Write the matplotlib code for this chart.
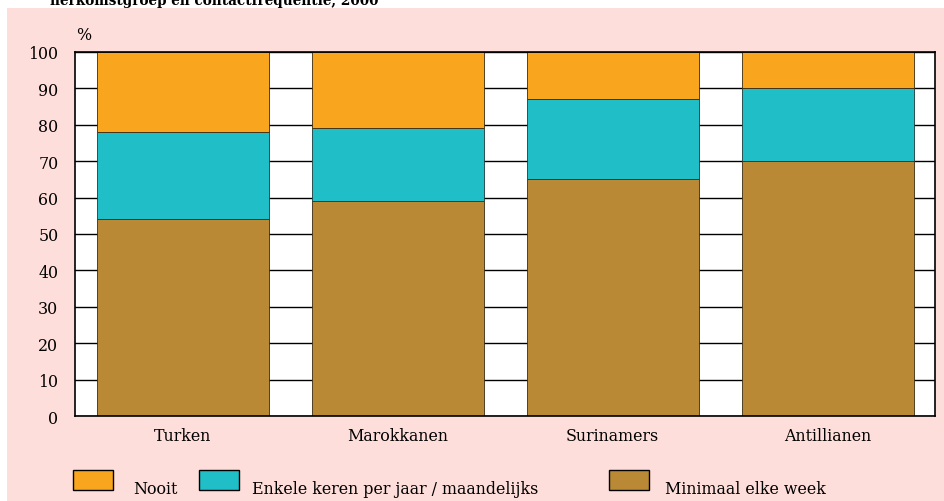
import matplotlib
matplotlib.use("Agg")
import matplotlib.pyplot as plt
from matplotlib.patches import Rectangle
import numpy as np

categories = ["Turken", "Marokkanen", "Surinamers", "Antillianen"]
minimaal = [54, 59, 65, 70]
enkele = [24, 20, 22, 20]
nooit = [22, 21, 13, 10]
series_labels = ["Nooit", "Enkele keren per jaar / maandelijks", "Minimaal elke week"]
yticks = list(range(0, 101, 10))

c_nooit = "#F9A61E"
c_enk = "#20BEC6"
c_min = "#B98935"
pink = "#FDDEDA"

plt.rcParams['font.family'] = ['DejaVu Serif']
FS = 11.4

W, H = 944, 502
fig = plt.figure(figsize=(W/100, H/100), dpi=100)
fig.patch.set_facecolor("white")
# pink panel
fig.patches.append(Rectangle((7/W, 0), 1 - 7/W, 1 - 9/H, transform=fig.transFigure,
                             facecolor=pink, edgecolor="none", zorder=-5))

ax = fig.add_axes([75/W, 1 - 417/H, (935-75)/W, (417-53)/H])
ax.set_zorder(1)
ax.set_facecolor("white")
x = np.arange(len(categories))
w = 0.8
ax.bar(x, minimaal, w, color=c_min, edgecolor="#3a2a10", linewidth=0.6, zorder=3)
ax.bar(x, enkele, w, bottom=minimaal, color=c_enk, edgecolor="#1a3a3a", linewidth=0.6, zorder=3)
b2 = np.array(minimaal) + np.array(enkele)
ax.bar(x, nooit, w, bottom=b2, color=c_nooit, edgecolor="#3a2a10", linewidth=0.6, zorder=3)

ax.set_xlim(-0.5, len(categories) - 0.5)
ax.set_ylim(0, 100)
ax.set_yticks(yticks)
ax.set_yticklabels([str(t) for t in yticks])
ax.set_xticks(x)
ax.set_xticklabels(categories)
ax.tick_params(axis="both", length=0, labelsize=FS)
ax.tick_params(axis="y", pad=12)
ax.tick_params(axis="x", pad=8)
ax.yaxis.grid(True, color="black", linewidth=1.0, zorder=1)
ax.set_axisbelow(True)
for s in ax.spines.values():
    s.set_color("black")
    s.set_linewidth(1.2)
    s.set_zorder(4)

fig.text(76/W, 1 - 40/H, "%", fontsize=FS, ha="left", va="baseline")

# cut-off title
fig.text(50/W, 1 - 5/H, "herkomstgroep en contactfrequentie, 2000", fontsize=9.8,
         fontweight="bold", ha="left", va="baseline")

# legend
leg_items = [(73, c_nooit, 133, series_labels[0]),
             (199, c_enk, 252, series_labels[1]),
             (609, c_min, 665, series_labels[2])]
for bx, col, tx, lab in leg_items:
    fig.patches.append(Rectangle((bx/W, 1 - 491/H), 40/W, 20/H, transform=fig.transFigure,
                                 facecolor=col, edgecolor="black", linewidth=1.0, zorder=2))
    fig.text(tx/W, 1 - 494/H, lab, fontsize=FS, ha="left", va="baseline")

fig.savefig("out.png", dpi=100, facecolor=fig.get_facecolor())
